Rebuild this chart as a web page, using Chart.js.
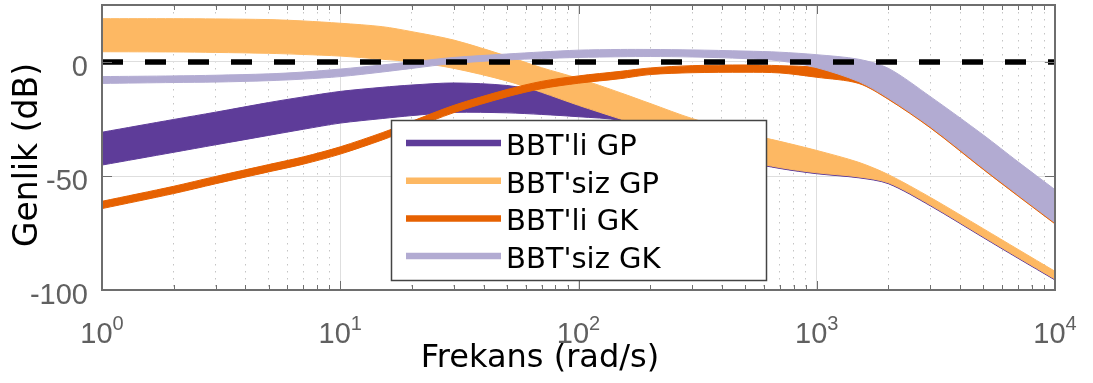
<!DOCTYPE html>
<html>
<head>
<meta charset="utf-8">
<script src="https://cdn.jsdelivr.net/npm/chart.js@4.4.1/dist/chart.umd.min.js"></script>
<style>
  body { margin: 0; background: #fff; }
  canvas { display: block; }
</style>
</head>
<body>
<canvas id="myChart" width="1093" height="383"></canvas>
<script>
// frequency points (rad/s)
const freqs = [1, 2, 3, 5, 7, 10, 15, 20, 30, 50, 70, 100, 150, 200, 300, 500, 700, 1000, 1500, 2000, 3000, 5000, 7000, 10000];

// BBT'li GP band (upper / lower edge, dB)
const bbtliGpUpper = [-30.8, -25.2, -22, -17.8, -15.3, -12.9, -11.1, -10.1, -9.2, -10.3, -13, -17, -20.5, -25, -33, -41.5, -45, -47.6, -49.8, -52.2, -61.7, -75.5, -84.5, -94.2];
const bbtliGpLower = [-45.2, -39.6, -36.3, -32.2, -29.5, -26.8, -24.8, -23.5, -22.1, -22.3, -23, -24, -25.6, -29.8, -36.6, -43.6, -46.7, -49, -50.8, -53.4, -63.1, -77, -86.1, -95.6];

// BBT'siz GP band
const bbtsizGpUpper = [19, 19, 18.9, 18.6, 18, 17, 15.5, 13.3, 9.6, 2.6, -2.5, -7.2, -13.5, -18.2, -24.8, -31.3, -34.8, -38.8, -44, -49.4, -59.4, -73.1, -82.2, -91.8];
const bbtsizGpLower = [4.5, 4.4, 4.2, 3.8, 3.3, 2.6, 1.2, 0.1, -2.8, -8.3, -13.3, -19, -25, -29.3, -36.2, -43.2, -46.3, -48.6, -50.4, -53, -62.7, -76.6, -85.7, -95.2];

// BBT'li GK band
const bbtliGkUpper = [-61.1, -54.5, -50.2, -45, -41.6, -37.2, -31, -26, -19, -12.1, -8.5, -6.1, -4.1, -2.6, -1.6, -1.3, -1.6, -2.5, -7.2, -15, -27.5, -45.5, -57.5, -69.5];
const bbtliGkLower = [-64.3, -57.7, -53.4, -48.2, -44.8, -40.4, -34.2, -29.2, -22.2, -15.3, -11.7, -9.3, -7.3, -5.5, -4.7, -4.5, -4.8, -6.7, -9.4, -16.4, -28.9, -47.1, -58.8, -71];

// BBT'siz GK band
const bbtsizGkUpper = [-6.4, -6.1, -5.8, -5.2, -4.4, -3.1, -1.3, 0.1, 2, 3.5, 4.4, 5.2, 5.5, 5.5, 5.3, 4.8, 4.3, 3.2, 1.2, -2.8, -15.2, -32, -43.8, -56];
const bbtsizGkLower = [-9.4, -9, -8.8, -8.2, -7.5, -6.4, -4.4, -2.8, -0.6, 0.9, 1.5, 2, 2.3, 2.4, 2.2, 1.5, 0.5, -2.5, -8.6, -15.9, -28.4, -46.6, -58.3, -70.5];

const seriesLabels = ["BBT'li GP", "BBT'siz GP", "BBT'li GK", "BBT'siz GK"];
const seriesColors = ['#5e3c99', '#fdb863', '#e66101', '#b2abd2'];

const yTicks = [-100, -50, 0];
const decadeExps = [0, 1, 2, 3, 4];

function toPoints(ys) {
  return freqs.map((f, i) => ({ x: f, y: ys[i] }));
}

// two edge lines with the area between them filled
function bandDatasets(label, upper, lower, color, order) {
  return [{
    label: label,
    data: toPoints(upper),
    borderColor: color,
    borderWidth: 1,
    pointRadius: 0,
    tension: 0.3,
    fill: false,
    order: order
  }, {
    label: label + ' alt',
    data: toPoints(lower),
    borderColor: color,
    borderWidth: 1,
    pointRadius: 0,
    tension: 0.3,
    backgroundColor: color,
    fill: '-1',
    order: order
  }];
}

const datasets = [
  ...bandDatasets(seriesLabels[0], bbtliGpUpper, bbtliGpLower, seriesColors[0], 5),
  ...bandDatasets(seriesLabels[1], bbtsizGpUpper, bbtsizGpLower, seriesColors[1], 4),
  ...bandDatasets(seriesLabels[2], bbtliGkUpper, bbtliGkLower, seriesColors[2], 3),
  ...bandDatasets(seriesLabels[3], bbtsizGkUpper, bbtsizGkLower, seriesColors[3], 2),
  {
    label: '0 dB',
    data: [{ x: 1, y: 0 }, { x: 10000, y: 0 }],
    borderColor: '#000',
    borderWidth: 5.5,
    borderDash: [21, 22],
    pointRadius: 0,
    fill: false,
    order: 1
  }
];

function isDecade(v) {
  const l = Math.log10(v);
  return Math.abs(l - Math.round(l)) < 1e-9;
}

// box, inward tick marks, tick labels, titles and legend
const decorPlugin = {
  id: 'decor',
  afterDatasetsDraw(chart) {
    const ctx = chart.ctx;
    const a = chart.chartArea;
    const xs = chart.scales.x;
    const ys = chart.scales.y;
    ctx.save();
    ctx.strokeStyle = '#6e6e6e';
    ctx.lineWidth = 1;
    ctx.beginPath();
    xs.ticks.forEach(t => {
      const px = Math.round(xs.getPixelForValue(t.value)) + 0.5;
      const len = isDecade(t.value) ? 9 : 5;
      ctx.moveTo(px, a.bottom); ctx.lineTo(px, a.bottom - len);
      ctx.moveTo(px, a.top); ctx.lineTo(px, a.top + len);
    });
    yTicks.forEach(v => {
      const py = Math.round(ys.getPixelForValue(v)) + 0.5;
      ctx.moveTo(a.left, py); ctx.lineTo(a.left + 10, py);
      ctx.moveTo(a.right, py); ctx.lineTo(a.right - 10, py);
    });
    ctx.stroke();
    ctx.lineWidth = 2;
    ctx.strokeRect(a.left, a.top, a.right - a.left, a.bottom - a.top);
    ctx.restore();
  },
  afterDraw(chart) {
    const ctx = chart.ctx;
    const a = chart.chartArea;
    const xs = chart.scales.x;
    const ys = chart.scales.y;
    ctx.save();

    // y labels
    ctx.fillStyle = '#606060';
    ctx.font = '29px "Liberation Sans", Arial, sans-serif';
    ctx.textAlign = 'right';
    ctx.textBaseline = 'alphabetic';
    yTicks.forEach(v => {
      ctx.fillText(String(v), a.left - 14, ys.getPixelForValue(v) + 13.5);
    });

    // 10^n labels
    ctx.textAlign = 'left';
    decadeExps.forEach(e => {
      const px = xs.getPixelForValue(Math.pow(10, e));
      ctx.font = '29px "Liberation Sans", Arial, sans-serif';
      const wBase = ctx.measureText('10').width;
      ctx.font = '20px "Liberation Sans", Arial, sans-serif';
      const wSup = ctx.measureText(String(e)).width;
      const start = px - (wBase + wSup) / 2;
      ctx.font = '29px "Liberation Sans", Arial, sans-serif';
      ctx.fillText('10', start, a.bottom + 53);
      ctx.font = '20px "Liberation Sans", Arial, sans-serif';
      ctx.fillText(String(e), start + wBase, a.bottom + 39.5);
    });

    // axis titles
    ctx.fillStyle = '#000';
    ctx.font = '32px "DejaVu Sans", sans-serif';
    ctx.textAlign = 'center';
    ctx.fillText('Frekans (rad/s)', 540, 367);
    ctx.save();
    ctx.translate(36.5, 155);
    ctx.rotate(-Math.PI / 2);
    ctx.font = '33px "DejaVu Sans", sans-serif';
    ctx.fillText('Genlik (dB)', 0, 0);
    ctx.restore();

    // legend
    const box = { x: 391, y: 120, w: 375, h: 160 };
    ctx.fillStyle = '#fff';
    ctx.fillRect(box.x, box.y, box.w, box.h);
    ctx.strokeStyle = '#444';
    ctx.lineWidth = 1.5;
    ctx.strokeRect(box.x + 0.5, box.y + 0.5, box.w, box.h);
    ctx.textAlign = 'left';
    ctx.font = '29px "DejaVu Sans", sans-serif';
    seriesLabels.forEach((lab, i) => {
      const cy = 143 + i * 37.7;
      ctx.strokeStyle = seriesColors[i];
      ctx.lineWidth = 6.5;
      ctx.beginPath();
      ctx.moveTo(406, cy);
      ctx.lineTo(501, cy);
      ctx.stroke();
      ctx.fillStyle = '#000';
      ctx.fillText(lab, 506, cy + 12);
    });
    ctx.restore();
  }
};

const ctx = document.getElementById('myChart').getContext('2d');
const myChart = new Chart(ctx, {
  type: 'line',
  data: { datasets: datasets },
  plugins: [decorPlugin],
  options: {
    responsive: false,
    animation: false,
    devicePixelRatio: 1,
    layout: { padding: { top: 5, right: 38, left: 0, bottom: 0 } },
    plugins: {
      legend: { display: false },
      tooltip: { enabled: false }
    },
    scales: {
      x: {
        type: 'logarithmic',
        min: 1,
        max: 10000,
        afterBuildTicks: function(scale) {
          const t = [];
          for (let d = 0; d < 4; d++) {
            for (let m = 1; m <= 9; m++) t.push({ value: m * Math.pow(10, d) });
          }
          t.push({ value: 10000 });
          scale.ticks = t;
        },
        afterFit: function(scale) { scale.height = 93; },
        ticks: { display: false, autoSkip: false },
        grid: {
          drawTicks: false,
          lineWidth: 1,
          color: c => (c.tick && isDecade(c.tick.value)) ? '#dedede' : '#c4c4c4'
        },
        border: {
          display: false,
          dash: c => (c.tick && isDecade(c.tick.value)) ? [] : [1.5, 5.5]
        }
      },
      y: {
        min: -100,
        max: 25,
        afterBuildTicks: function(scale) {
          scale.ticks = yTicks.map(v => ({ value: v }));
        },
        afterFit: function(scale) { scale.width = 102; },
        ticks: { display: false },
        grid: { drawTicks: false, color: '#dedede', lineWidth: 1 },
        border: { display: false }
      }
    }
  }
});
</script>
</body>
</html>
